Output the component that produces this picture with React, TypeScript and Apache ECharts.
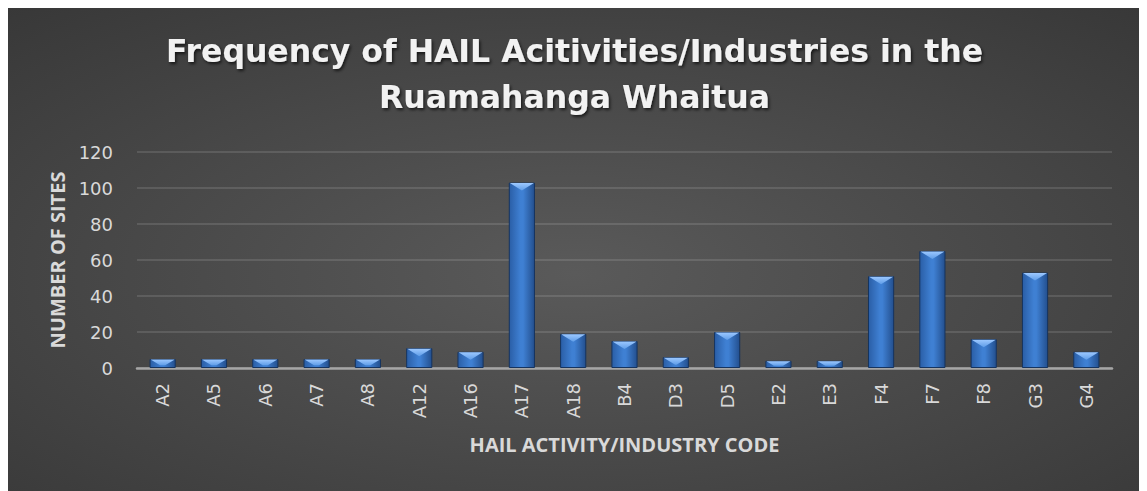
import React, { useEffect, useRef } from "react";
import * as echarts from "echarts";

const categories = ["A2", "A5", "A6", "A7", "A8", "A12", "A16", "A17", "A18", "B4", "D3", "D5", "E2", "E3", "F4", "F7", "F8", "G3", "G4"];
const siteCounts = [5, 5, 5, 5, 5, 11, 9, 103, 19, 15, 6, 20, 4, 4, 51, 65, 16, 53, 9];
const yTicks = { min: 0, max: 120, interval: 20 };
const titleLines = ["Frequency of HAIL Acitivities/Industries in the", "Ruamahanga Whaitua"];
const yAxisTitle = "NUMBER OF SITES";
const xAxisTitle = "HAIL ACTIVITY/INDUSTRY CODE";

const BAR_RATIO = 0.51;

export default function App() {
  const ref = useRef<HTMLDivElement>(null);
  useEffect(() => {
    if (!ref.current) return;
    const chart = echarts.init(ref.current, undefined, { renderer: "svg" });
    const labelColor = "#d9d9d9";
    const option: any = {
      animation: false,
      title: {
        text: titleLines.join("\n"),
        left: "center",
        top: 16,
        textStyle: {
          color: "#f2f2f2",
          fontFamily: "DejaVu Sans",
          fontWeight: "bold",
          fontSize: 31.5,
          lineHeight: 46,
          textShadowColor: "rgba(0,0,0,0.65)",
          textShadowBlur: 3,
          textShadowOffsetX: 1.5,
          textShadowOffsetY: 2,
        },
      },
      graphic: [
        {
          type: "rect",
          z: -100,
          silent: true,
          shape: { x: 0, y: 0, width: 1135, height: 484 },
          style: {
            fill: {
              type: "radial",
              x: 0.5,
              y: 0.55,
              r: 1.2,
              colorStops: [
                { offset: 0, color: "#5a5a5a" },
                { offset: 1, color: "#232323" },
              ],
            },
          },
        },
      ],
      grid: { left: 130, right: 30, top: 145, bottom: 123, containLabel: false },
      xAxis: {
        type: "category",
        data: categories,
        name: xAxisTitle,
        nameLocation: "middle",
        nameGap: 66,
        nameTextStyle: { color: labelColor, fontFamily: "Open Sans", fontWeight: "bold", fontSize: 20 },
        axisLine: { show: true, lineStyle: { color: "#a6a6a6", width: 2.5 } },
        axisTick: { show: false },
        axisLabel: { rotate: 90, color: labelColor, fontFamily: "DejaVu Sans", fontSize: 18, margin: 15 },
        splitLine: { show: false },
      },
      yAxis: {
        type: "value",
        min: yTicks.min,
        max: yTicks.max,
        interval: yTicks.interval,
        name: yAxisTitle,
        nameLocation: "middle",
        nameGap: 64,
        nameTextStyle: { color: labelColor, fontFamily: "Open Sans", fontWeight: "bold", fontSize: 20 },
        axisLine: { show: false },
        axisTick: { show: false },
        axisLabel: { color: labelColor, fontFamily: "DejaVu Sans", fontSize: 18, margin: 24 },
        splitLine: { lineStyle: { color: "rgba(255,255,255,0.16)", width: 1.5 } },
      },
      series: [
        {
          type: "bar",
          data: siteCounts,
          barWidth: BAR_RATIO * 100 + "%",
          itemStyle: {
            color: new echarts.graphic.LinearGradient(0, 0, 1, 0, [
              { offset: 0, color: "#2a5ea6" },
              { offset: 0.45, color: "#3f80d3" },
              { offset: 0.55, color: "#3f80d3" },
              { offset: 1, color: "#234f8e" },
            ]),
            borderColor: "#16345f",
            borderWidth: 1,
          },
        },
        {
          type: "custom",
          silent: true,
          z: 3,
          data: siteCounts.map((v, i) => [i, v]),
          renderItem: (params: any, api: any) => {
            const cat = api.value(0);
            const v = api.value(1);
            const top = api.coord([cat, v]);
            const base = api.coord([cat, 0]);
            const bw = api.size([1, 0])[0] * BAR_RATIO;
            const x0 = top[0] - bw / 2 + 1;
            const x1 = top[0] + bw / 2 - 1;
            const h = base[1] - top[1];
            const bh = Math.min(8, h * 0.7);
            const half = (x1 - x0) / 2;
            const inset = Math.min(half, (half * bh) / 8);
            return {
              type: "polygon",
              shape: {
                points: [
                  [x0, top[1] + 0.5],
                  [x1, top[1] + 0.5],
                  [x1 - inset, top[1] + bh],
                  [x0 + inset, top[1] + bh],
                ],
              },
              style: {
                fill: new echarts.graphic.LinearGradient(0, 0, 0, 1, [
                  { offset: 0, color: "#9cc8ff" },
                  { offset: 1, color: "#5f9de8" },
                ]),
              },
            };
          },
        },
      ],
    };
    chart.setOption(option);
    return () => chart.dispose();
  }, []);
  return (
    <div style={{ position: "relative", left: -1, top: -1, width: 1135, height: 484 }}>
      <div ref={ref} style={{ width: 1135, height: 484 }} />
    </div>
  );
}
